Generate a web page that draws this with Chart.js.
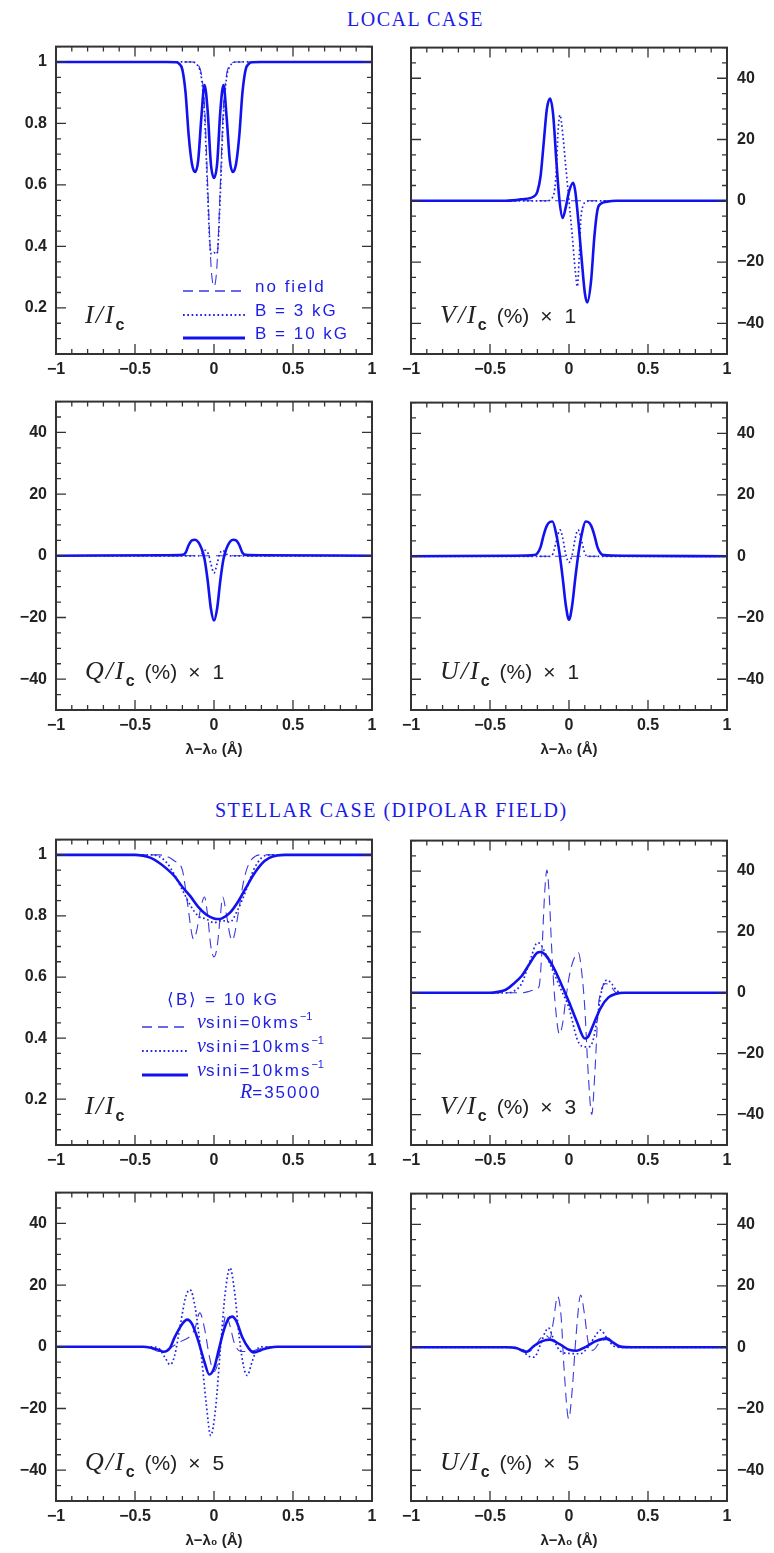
<!DOCTYPE html>
<html>
<head>
<meta charset="utf-8">
<title>Local and stellar Stokes profiles</title>
<script src="https://cdn.jsdelivr.net/npm/chart.js@4.4.1/dist/chart.umd.min.js"></script>
<style>
  html, body { margin: 0; padding: 0; background: #fff; }
  #page { position: relative; width: 774px; height: 1553px; overflow: hidden; }
  #page canvas { position: absolute; }
  .title { position: absolute; white-space: nowrap; color: #1a1ae8;
           font: 20px 'Liberation Serif', serif; letter-spacing: 1.5px; line-height: 20px; }
</style>
</head>
<body>
<div id="page">
  <div class="title" style="left:347px; top:9px;">LOCAL CASE</div>
  <div class="title" style="left:215px; top:800px;">STELLAR CASE (DIPOLAR FIELD)</div>
</div>
<script>
/* ------------------------------------------------------------------ */
/* Data                                          */
/* ------------------------------------------------------------------ */
var X_TICKS = [-1, -0.5, 0, 0.5, 1];
var Y_TICKS_I = [0.2, 0.4, 0.6, 0.8, 1];
var Y_TICKS_P = [-40, -20, 0, 20, 40];

/* local case, I/Ic */
var xLocI0 = [-1, -0.14, -0.1, -0.08, -0.06, -0.04, -0.025, -0.015, 0, 0.015, 0.025, 0.04, 0.06, 0.08, 0.1, 0.14, 1];
var locI0 = [1, 1, 0.99, 0.96, 0.86, 0.6, 0.4, 0.31, 0.27, 0.31, 0.4, 0.6, 0.86, 0.96, 0.99, 1, 1];
var xLocI3 = [-1, -0.14, -0.1, -0.08, -0.06, -0.04, -0.025, -0.015, 0, 0.015, 0.025, 0.04, 0.06, 0.08, 0.1, 0.14, 1];
var locI3 = [1, 1, 0.985, 0.95, 0.83, 0.57, 0.4, 0.375, 0.38, 0.375, 0.4, 0.57, 0.83, 0.95, 0.985, 1, 1];
var xLocI10 = [-1, -0.3, -0.24, -0.22, -0.2, -0.18, -0.16, -0.14, -0.12, -0.1, -0.08, -0.06, -0.04, -0.02, 0, 0.02, 0.04, 0.06, 0.08, 0.1, 0.12, 0.14, 0.16, 0.18, 0.2, 0.22, 0.24, 0.3, 1];
var locI10 = [1, 1, 0.999, 0.994, 0.975, 0.9, 0.76, 0.67, 0.642, 0.68, 0.82, 0.925, 0.84, 0.67, 0.623, 0.67, 0.84, 0.925, 0.82, 0.68, 0.642, 0.67, 0.76, 0.9, 0.975, 0.994, 0.999, 1, 1];

/* local case, V/Ic (%) */
var xLocV0 = [-1, 1];
var locV0 = [0, 0];
var xLocV3 = [-1, -0.14, -0.1, -0.08, -0.07, -0.057, -0.04, -0.02, 0, 0.02, 0.04, 0.053, 0.065, 0.075, 0.09, 0.11, 0.14, 1];
var locV3 = [0, 0, 1.5, 10, 22, 28, 22, 11, 0, -11, -23, -28, -18, -6, -1.5, -0.3, 0, 0];
var xLocV10 = [-1, -0.4, -0.3, -0.22, -0.2, -0.18, -0.16, -0.14, -0.12, -0.1, -0.08, -0.06, -0.04, -0.02, 0, 0.027, 0.04, 0.06, 0.08, 0.1, 0.116, 0.14, 0.16, 0.18, 0.2, 0.24, 0.3, 1];
var locV10 = [0, 0, 0.5, 1.5, 3, 8, 19, 30, 33.4, 28, 13, 0, -5.6, -2, 3, 5.9, 3, -7, -19, -30, -33.2, -26, -12, -3, -1, -0.3, 0, 0];

/* local case, Q/Ic (%) */
var xLocQ0 = [-1, 1];
var locQ0 = [0, 0];
var xLocQ3 = [-1, -0.1, -0.08, -0.055, -0.035, -0.02, 0, 0.02, 0.035, 0.055, 0.08, 0.1, 1];
var locQ3 = [0, 0, 0.5, 1.8, 0.5, -2.5, -5.6, -2.5, 0.5, 1.8, 0.5, 0, 0];
var xLocQ10 = [-1, -0.3, -0.2, -0.18, -0.16, -0.14, -0.12, -0.1, -0.08, -0.06, -0.04, -0.02, 0, 0.02, 0.04, 0.06, 0.08, 0.1, 0.12, 0.14, 0.16, 0.18, 0.2, 0.3, 1];
var locQ10 = [0, 0.2, 0.3, 1, 3.5, 5, 5.2, 4.5, 2.5, -1, -8, -17, -21, -17, -8, -1, 2.5, 4.5, 5.2, 5, 3.5, 1, 0.3, 0.2, 0];

/* local case, U/Ic (%) */
var xLocU0 = [-1, 1];
var locU0 = [0, 0];
var xLocU3 = [-1, -0.12, -0.1, -0.08, -0.057, -0.04, -0.02, 0, 0.02, 0.04, 0.057, 0.08, 0.1, 0.12, 1];
var locU3 = [0, 0, 1, 5, 8.6, 6, 0.5, -2, 0.5, 6, 8.6, 5, 1, 0, 0];
var xLocU10 = [-1, -0.35, -0.22, -0.2, -0.18, -0.16, -0.14, -0.12, -0.105, -0.08, -0.06, -0.04, -0.02, 0, 0.02, 0.04, 0.06, 0.08, 0.105, 0.12, 0.14, 0.16, 0.18, 0.2, 0.22, 0.35, 1];
var locU10 = [0, 0.2, 0.4, 1, 3, 7, 10, 11.2, 11.3, 7, 1, -7, -16, -20.6, -16, -7, 1, 7, 11.3, 11.2, 10, 7, 3, 1, 0.4, 0.2, 0];

/* stellar case, I/Ic */
var xStI0 = [-1, -0.35, -0.3, -0.25, -0.2, -0.17, -0.14, -0.13, -0.11, -0.09, -0.06, -0.04, -0.02, 0, 0.02, 0.04, 0.055, 0.08, 0.1, 0.115, 0.13, 0.16, 0.19, 0.22, 0.26, 0.3, 1];
var stI0 = [1, 1, 0.995, 0.98, 0.95, 0.85, 0.74, 0.725, 0.75, 0.81, 0.862, 0.8, 0.7, 0.666, 0.7, 0.8, 0.862, 0.8, 0.74, 0.72, 0.74, 0.83, 0.92, 0.97, 0.995, 1, 1];
var xStI3 = [-1, -0.4, -0.35, -0.3, -0.25, -0.2, -0.15, -0.1, -0.05, 0, 0.05, 0.1, 0.15, 0.2, 0.25, 0.3, 0.35, 1];
var stI3 = [1, 1, 0.995, 0.975, 0.935, 0.885, 0.835, 0.8, 0.79, 0.778, 0.785, 0.78, 0.82, 0.88, 0.95, 0.99, 1, 1];
var xStI10 = [-1, -0.5, -0.45, -0.4, -0.35, -0.3, -0.25, -0.2, -0.15, -0.1, -0.05, 0, 0.03, 0.05, 0.1, 0.15, 0.2, 0.25, 0.3, 0.35, 0.4, 0.45, 1];
var stI10 = [1, 1, 0.997, 0.99, 0.975, 0.955, 0.93, 0.895, 0.865, 0.83, 0.805, 0.792, 0.79, 0.792, 0.81, 0.845, 0.89, 0.935, 0.97, 0.99, 0.998, 1, 1];

/* stellar case, V/Ic (%) x 3 */
var xStV0 = [-1, -0.3, -0.25, -0.22, -0.19, -0.17, -0.155, -0.14, -0.125, -0.11, -0.09, -0.06, -0.04, -0.02, 0, 0.03, 0.06, 0.08, 0.1, 0.12, 0.144, 0.165, 0.185, 0.2, 0.23, 0.26, 0.3, 1];
var stV0 = [0, 0, 0.5, 1, 2, 15, 32, 40.3, 32, 15, -2, -13.6, -10, -2, 5, 11, 13.1, 7, -5, -25, -40, -25, -5, 0, 3, 2.5, 0, 0];
var xStV3 = [-1, -0.4, -0.35, -0.3, -0.25, -0.2, -0.18, -0.15, -0.1, -0.05, 0, 0.05, 0.08, 0.12, 0.15, 0.18, 0.2, 0.22, 0.24, 0.27, 0.3, 0.35, 1];
var stV3 = [0, 0, 0.5, 3, 10, 16.4, 16, 13, 7, 1, -5, -15, -17.5, -17.8, -16, -8, -1, 3, 4.2, 3, 0.8, 0, 0];
var xStV10 = [-1, -0.5, -0.45, -0.4, -0.35, -0.3, -0.25, -0.2, -0.18, -0.15, -0.1, -0.05, 0, 0.05, 0.1, 0.12, 0.15, 0.2, 0.25, 0.3, 0.35, 1];
var stV10 = [0, 0, 0.3, 1, 3, 5.5, 9.5, 13.2, 13.4, 12.5, 8.5, 3, -3, -9.5, -15, -14.5, -11, -5, -1.5, -0.3, 0, 0];

/* stellar case, Q/Ic (%) x 5 */
var xStQ0 = [-1, -0.45, -0.4, -0.35, -0.3, -0.25, -0.2, -0.15, -0.12, -0.09, -0.06, -0.03, 0, 0.02, 0.05, 0.076, 0.1, 0.13, 0.17, 0.22, 0.28, 0.35, 1];
var stQ0 = [0, 0, -0.5, -1.5, -1.2, 0.5, 2, 3.5, 6, 11, 6, -3, -8, -6, 3, 10.5, 7, 1, -1.5, -1.5, -0.8, 0, 0];
var xStQ3 = [-1, -0.4, -0.35, -0.31, -0.278, -0.25, -0.21, -0.18, -0.152, -0.12, -0.08, -0.05, -0.021, 0.01, 0.04, 0.07, 0.101, 0.13, 0.16, 0.19, 0.211, 0.24, 0.27, 0.3, 1];
var stQ3 = [0, 0, -0.5, -3.5, -5.8, -3, 8, 16, 18.5, 13, -3, -18, -28.8, -20, -1, 17, 25.6, 18, 3, -7, -9.3, -5, -1, 0, 0];
var xStQ10 = [-1, -0.45, -0.4, -0.35, -0.32, -0.28, -0.25, -0.2, -0.17, -0.14, -0.1, -0.06, -0.03, 0, 0.03, 0.06, 0.09, 0.115, 0.14, 0.18, 0.22, 0.25, 0.3, 0.35, 0.4, 1];
var stQ10 = [0, 0, -0.3, -1, -1.6, -0.5, 3, 7.5, 8.8, 7.5, 2, -5, -9, -7, -1, 5, 9, 9.8, 8.5, 3, -0.5, -1.8, -1, -0.3, 0, 0];

/* stellar case, U/Ic (%) x 5 */
var xStU0 = [-1, -0.35, -0.3, -0.26, -0.22, -0.18, -0.15, -0.12, -0.1, -0.072, -0.05, -0.03, -0.002, 0.02, 0.045, 0.074, 0.1, 0.12, 0.15, 0.2, 0.24, 0.3, 0.35, 1];
var stU0 = [0, 0, -0.5, -1.5, 0, 3, 4, 3, 8, 16.6, 10, -8, -23.3, -14, 4, 17, 10, 2, -1, 2, 2.5, 0.5, 0, 0];
var xStU3 = [-1, -0.35, -0.3, -0.25, -0.22, -0.18, -0.15, -0.13, -0.1, -0.06, 0, 0.07, 0.12, 0.17, 0.2, 0.24, 0.28, 0.32, 1];
var stU3 = [0, 0, -1, -3, -3.2, 1, 5, 6.3, 3, -1, -2, -2.1, 0, 4, 5.6, 3, 0.5, 0, 0];
var xStU10 = [-1, -0.4, -0.33, -0.27, -0.22, -0.17, -0.12, -0.06, 0, 0.05, 0.1, 0.17, 0.24, 0.28, 0.32, 0.4, 1];
var stU10 = [0, 0, -0.3, -1.5, 0.5, 2, 2.5, 1, -0.8, -1.1, 0, 2, 2.9, 1.5, 0.3, 0, 0];

/* ------------------------------------------------------------------ */
/* Styles & layout                                                     */
/* ------------------------------------------------------------------ */
var INK = "#222";
var LEGEND_BLUE = "#1e1ee4";
var STYLES = {
  solid: { borderColor: "#1212ee", borderWidth: 2.6, borderDash: [] },
  dot:   { borderColor: "#2424e6", borderWidth: 1.7, borderDash: [1.7, 2.6] },
  dash:  { borderColor: "#3a3ade", borderWidth: 1.1, borderDash: [10, 6] }
};

var ROWS = [
  { top: 38,   bottom: 354,  xTitle: false },
  { top: 393,  bottom: 710,  xTitle: true },
  { top: 831,  bottom: 1145, xTitle: false },
  { top: 1184, bottom: 1501, xTitle: true }
];

var PANELS = [
  { row: 0, col: 0, kind: "I", name: "I", factor: null, legend: "local",
    curves: [["solid", xLocI10, locI10], ["dot", xLocI3, locI3], ["dash", xLocI0, locI0]] },
  { row: 0, col: 1, kind: "P", name: "V", factor: "1",
    curves: [["solid", xLocV10, locV10], ["dot", xLocV3, locV3], ["dash", xLocV0, locV0]] },
  { row: 1, col: 0, kind: "P", name: "Q", factor: "1",
    curves: [["solid", xLocQ10, locQ10], ["dot", xLocQ3, locQ3], ["dash", xLocQ0, locQ0]] },
  { row: 1, col: 1, kind: "P", name: "U", factor: "1",
    curves: [["solid", xLocU10, locU10], ["dot", xLocU3, locU3], ["dash", xLocU0, locU0]] },
  { row: 2, col: 0, kind: "I", name: "I", factor: null, legend: "stellar",
    curves: [["solid", xStI10, stI10], ["dot", xStI3, stI3], ["dash", xStI0, stI0]] },
  { row: 2, col: 1, kind: "P", name: "V", factor: "3",
    curves: [["solid", xStV10, stV10], ["dot", xStV3, stV3], ["dash", xStV0, stV0]] },
  { row: 3, col: 0, kind: "P", name: "Q", factor: "5",
    curves: [["solid", xStQ10, stQ10], ["dot", xStQ3, stQ3], ["dash", xStQ0, stQ0]] },
  { row: 3, col: 1, kind: "P", name: "U", factor: "5",
    curves: [["solid", xStU10, stU10], ["dot", xStU3, stU3], ["dash", xStU0, stU0]] }
];

var Y_SPEC = {
  I: { min: 0.05, max: 1.05, ticks: Y_TICKS_I, minor: 0.05, major: 0.2 },
  P: { min: -50, max: 50, ticks: Y_TICKS_P, minor: 5, major: 20 }
};

var F_SERIF_IT = "italic 26px 'Liberation Serif', serif";
var F_SUB = "bold 16px 'Liberation Sans', sans-serif";
var F_TXT = "21px 'Liberation Sans', sans-serif";
var F_LEG = "17px 'Liberation Sans', sans-serif";
var F_LEG_IT = "italic 20px 'Liberation Serif', serif";
var F_SUP = "11px 'Liberation Sans', sans-serif";

Chart.defaults.font.family = "'Liberation Sans', Arial, sans-serif";
Chart.defaults.color = INK;

/* ------------------------------------------------------------------ */
/* Helpers                                                             */
/* ------------------------------------------------------------------ */
function fmt(v) {
  return String(Math.round(v * 100) / 100).replace("-", "\u2212");
}

function drawRuns(ctx, runs, x, y, color) {
  ctx.fillStyle = color;
  ctx.textAlign = "left";
  ctx.textBaseline = "alphabetic";
  runs.forEach(function (r) {
    x += r.dx || 0;
    ctx.font = r.font;
    ctx.letterSpacing = r.ls || "0px";
    ctx.fillText(r.t, x, y + (r.dy || 0));
    x += ctx.measureText(r.t).width;
  });
  ctx.letterSpacing = "0px";
}

function strokeSample(ctx, style, x0, x1, y) {
  var s = STYLES[style];
  ctx.save();
  ctx.strokeStyle = s.borderColor;
  ctx.lineWidth = style === "solid" ? 3 : s.borderWidth + 0.2;
  ctx.setLineDash(s.borderDash);
  ctx.beginPath();
  ctx.moveTo(x0, y);
  ctx.lineTo(x1, y);
  ctx.stroke();
  ctx.restore();
}

function labelRuns(p) {
  var runs = [{ t: p.name + "/I", font: F_SERIF_IT, ls: "2px" }, { t: "c", font: F_SUB, dy: 7 }];
  if (p.factor) {
    runs.push({ t: "(%)", font: F_TXT, dx: 10 });
    runs.push({ t: "\u00d7", font: F_TXT, dx: 11 });
    runs.push({ t: p.factor, font: F_TXT, dx: 12 });
  }
  return runs;
}

function vsiniRuns(val) {
  return [
    { t: "v", font: F_LEG_IT },
    { t: "sini=" + val + "kms", font: F_LEG, ls: "2px" },
    { t: "\u22121", font: F_SUP, dy: -8 }
  ];
}

/* frame, inward ticks, panel label and legend */
function makeDeco(p) {
  var ys = Y_SPEC[p.kind];
  return {
    id: "deco" + p.row + p.col,
    afterDraw: function (chart) {
      var ctx = chart.ctx, a = chart.chartArea;
      var sx = chart.scales.x, sy = chart.scales.y;
      ctx.save();
      ctx.strokeStyle = "#333";
      ctx.lineWidth = 1.3;
      ctx.beginPath();
      for (var i = -10; i <= 10; i++) {
        var px = sx.getPixelForValue(i / 10);
        var len = i % 5 === 0 ? 10 : 5;
        ctx.moveTo(px, a.bottom); ctx.lineTo(px, a.bottom - len);
        ctx.moveTo(px, a.top); ctx.lineTo(px, a.top + len);
      }
      var n = Math.round((ys.max - ys.min) / ys.minor);
      for (var k = 0; k <= n; k++) {
        var v = ys.min + k * ys.minor;
        var q = v / ys.major;
        var ylen = Math.abs(q - Math.round(q)) < 1e-6 ? 10 : 5;
        var py = sy.getPixelForValue(v);
        ctx.moveTo(a.left, py); ctx.lineTo(a.left + ylen, py);
        ctx.moveTo(a.right, py); ctx.lineTo(a.right - ylen, py);
      }
      ctx.stroke();
      ctx.lineWidth = 2;
      ctx.strokeRect(a.left, a.top, a.right - a.left, a.bottom - a.top);

      drawRuns(ctx, labelRuns(p), a.left + 29, a.bottom - 31, INK);

      if (p.legend === "local") {
        var rows = [["dash", "no field", 62], ["dot", "B = 3 kG", 38], ["solid", "B = 10 kG", 15]];
        rows.forEach(function (r) {
          var by = a.bottom - r[2];
          strokeSample(ctx, r[0], a.left + 127, a.left + 189, by - 1);
          drawRuns(ctx, [{ t: r[1], font: F_LEG, ls: "2px" }], a.left + 199, by, LEGEND_BLUE);
        });
      } else if (p.legend === "stellar") {
        drawRuns(ctx, [{ t: "\u27e8B\u27e9 = 10 kG", font: F_LEG, ls: "2px" }], a.left + 111, a.bottom - 140, LEGEND_BLUE);
        var srows = [["dash", "0", 117], ["dot", "10", 93], ["solid", "10", 69]];
        srows.forEach(function (r) {
          var by = a.bottom - r[2];
          strokeSample(ctx, r[0], a.left + 86, a.left + 132, by - 1);
          drawRuns(ctx, vsiniRuns(r[1]), a.left + 141, by, LEGEND_BLUE);
        });
        drawRuns(ctx, [{ t: "R", font: F_LEG_IT }, { t: "=35000", font: F_LEG, ls: "2px" }],
                 a.left + 184, a.bottom - 47, LEGEND_BLUE);
      }
      ctx.restore();
    }
  };
}

/* ------------------------------------------------------------------ */
/* Build the eight panels                                              */
/* ------------------------------------------------------------------ */
var page = document.getElementById("page");

PANELS.forEach(function (p) {
  var r = ROWS[p.row];
  var ys = Y_SPEC[p.kind];
  var left = p.col === 0;
  var axisH = r.xTitle ? 52 : 30;
  var cv = document.createElement("canvas");
  cv.width = left ? 390 : 384;
  cv.height = 10 + (r.bottom - r.top) + axisH;
  cv.style.left = (left ? 0 : 390) + "px";
  cv.style.top = (r.top - 10) + "px";
  page.appendChild(cv);

  var datasets = p.curves.map(function (c) {
    var s = STYLES[c[0]];
    return {
      data: c[1].map(function (x, i) { return { x: x, y: c[2][i] }; }),
      borderColor: s.borderColor,
      borderWidth: s.borderWidth,
      borderDash: s.borderDash,
      pointRadius: 0,
      fill: false,
      cubicInterpolationMode: "monotone"
    };
  });

  new Chart(cv, {
    type: "line",
    data: { datasets: datasets },
    options: {
      responsive: false,
      animation: false,
      events: [],
      devicePixelRatio: 1,
      layout: { padding: left ? { left: 0, right: 18, top: 10, bottom: 0 } : { left: 21, right: 0, top: 10, bottom: 0 } },
      plugins: { legend: { display: false }, tooltip: { enabled: false } },
      scales: {
        x: {
          type: "linear", min: -1, max: 1, position: "bottom",
          grid: { display: false, drawTicks: false },
          border: { display: false },
          afterBuildTicks: function (s) { s.ticks = X_TICKS.map(function (v) { return { value: v }; }); },
          afterFit: function (s) { s.height = axisH; },
          ticks: { padding: 6, autoSkip: false, maxRotation: 0, color: INK,
                   font: { size: 16, weight: "bold" }, callback: fmt },
          title: { display: r.xTitle, text: "\u03bb\u2212\u03bb\u2080 (\u00c5)", color: INK,
                   padding: { top: 0, bottom: 3 }, font: { size: 15, weight: "bold" } }
        },
        y: {
          type: "linear", min: ys.min, max: ys.max, position: left ? "left" : "right",
          grid: { display: false, drawTicks: false },
          border: { display: false },
          afterBuildTicks: function (s) { s.ticks = ys.ticks.map(function (v) { return { value: v }; }); },
          afterFit: function (s) { s.width = left ? 56 : 47; },
          ticks: { padding: left ? 9 : 10, autoSkip: false, color: INK,
                   font: { size: 16, weight: "bold" }, callback: fmt }
        }
      }
    },
    plugins: [makeDeco(p)]
  });
});
</script>
</body>
</html>
